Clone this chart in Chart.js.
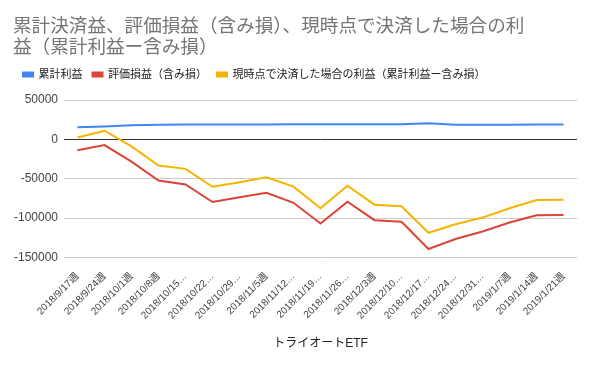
<!DOCTYPE html>
<html>
<head>
<meta charset="utf-8">
<script src="https://cdn.jsdelivr.net/npm/chart.js@4"></script>
<style>
    html, body { margin: 0; padding: 0; background: #fff; }
    #wrap { width: 592px; height: 366px; }
</style>
</head>
<body>
<div id="wrap"><canvas id="chart" width="592" height="366"></canvas></div>
<script>
const FONT = '"Liberation Sans", Arial, "Noto Sans CJK JP", sans-serif';

const weeks = [
    "2018/9/17週", "2018/9/24週", "2018/10/1週", "2018/10/8週", "2018/10/15週",
    "2018/10/22週", "2018/10/29週", "2018/11/5週", "2018/11/12週", "2018/11/19週",
    "2018/11/26週", "2018/12/3週", "2018/12/10週", "2018/12/17週", "2018/12/24週",
    "2018/12/31週", "2019/1/7週", "2019/1/14週", "2019/1/21週"
];

// 累計利益
const realized = [
    15500, 16500, 18000, 18500, 19000, 19000, 19000, 19000, 19300, 19300,
    19300, 19300, 19300, 20500, 18500, 18500, 18500, 19000, 19000
];

// 評価損益（含み損）
const unrealized = [
    -13900, -7200, -28200, -52200, -57200, -79500, -73600, -67700, -80500, -106900,
    -79100, -102600, -104700, -139200, -126600, -116900, -105600, -96300, -95900
];

// 現時点で決済した場合の利益
const netIfClosed = [
    2500, 11000, -8800, -33200, -37400, -60200, -54300, -48000, -60000, -87500,
    -58900, -82900, -85000, -118600, -107700, -99300, -87500, -77000, -76600
];

const yTicks = [50000, 0, -50000, -100000, -150000];

const titleLines = [
    "累計決済益、評価損益（含み損）、現時点で決済した場合の利",
    "益（累計利益ー含み損）"
];

function shorten(label) {
    return label.length > 10 ? label.slice(0, 10) + "…" : label;
}

// extra room under the legend, like the original
const legendGap = {
    id: 'legendGap',
    beforeLayout(chart) {
        const lg = chart.legend;
        if (lg && !lg._gapPatched) {
            const fit = lg.fit;
            lg.fit = function () { fit.call(this); this.height += 10; };
            lg._gapPatched = true;
        }
    }
};

const ctx = document.getElementById('chart').getContext('2d');
new Chart(ctx, {
    type: 'line',
    data: {
        labels: weeks,
        datasets: [
            { label: '累計利益', data: realized, borderColor: '#4285F4', backgroundColor: '#4285F4' },
            { label: '評価損益（含み損）', data: unrealized, borderColor: '#DB4437', backgroundColor: '#DB4437' },
            { label: '現時点で決済した場合の利益（累計利益ー含み損）', data: netIfClosed, borderColor: '#F4B400', backgroundColor: '#F4B400' }
        ]
    },
    options: {
        responsive: false,
        animation: false,
        devicePixelRatio: 1,
        layout: { padding: { left: 13, right: 15, top: 0, bottom: 0 } },
        elements: {
            line: { borderWidth: 2, tension: 0 },
            point: { radius: 0 }
        },
        plugins: {
            title: {
                display: true,
                text: titleLines,
                align: 'start',
                color: '#757575',
                font: { family: FONT, size: 18.6, weight: 'normal', lineHeight: 1.13 },
                padding: { top: 16, bottom: 1 }
            },
            legend: {
                display: true,
                align: 'start',
                labels: {
                    color: '#222',
                    font: { family: FONT, size: 11 },
                    boxWidth: 10,
                    boxHeight: 4,
                    padding: 10
                }
            },
            tooltip: { enabled: false }
        },
        scales: {
            x: {
                offset: true,
                grid: { display: false },
                border: { display: false },
                ticks: {
                    color: '#444',
                    font: { family: FONT, size: 10 },
                    minRotation: 45,
                    maxRotation: 45,
                    autoSkip: false,
                    padding: 5,
                    callback: function (value) { return shorten(weeks[value]); }
                },
                title: {
                    display: true,
                    text: 'トライオートETF',
                    color: '#222',
                    font: { family: FONT, size: 12 },
                    padding: { top: 4, bottom: 15 }
                },
                afterFit: function (scale) { scale.height = 366 - 257.5; }
            },
            y: {
                min: -150000,
                max: 50000,
                afterBuildTicks: function (scale) {
                    scale.ticks = yTicks.map(v => ({ value: v }));
                },
                grid: {
                    drawTicks: false,
                    color: c => (c.tick && c.tick.value === 0) ? '#333' : '#ccc',
                    lineWidth: 1
                },
                border: { display: false },
                ticks: {
                    color: '#444',
                    font: { family: FONT, size: 12 },
                    padding: 6,
                    callback: v => String(v)
                },
                afterFit: function (scale) { scale.width = 51; }
            }
        }
    },
    plugins: [legendGap]
});
</script>
</body>
</html>
